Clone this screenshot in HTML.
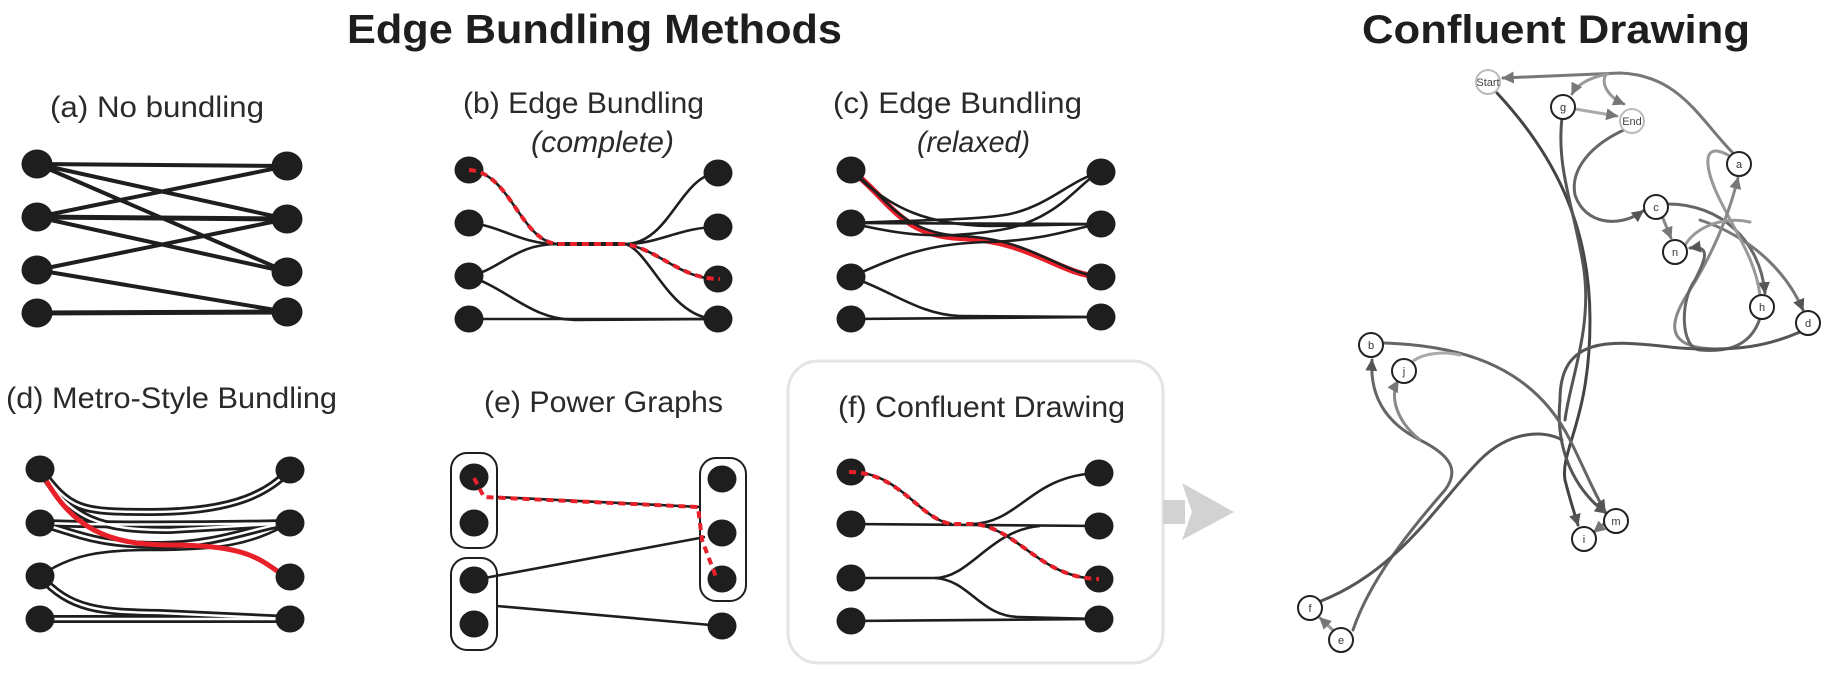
<!DOCTYPE html>
<html><head><meta charset="utf-8"><style>
html,body{margin:0;padding:0;background:#fff;}
svg{display:block;}
text{font-family:"Liberation Sans",sans-serif;}
</style></head><body>
<svg width="1835" height="683" viewBox="0 0 1835 683" xmlns="http://www.w3.org/2000/svg">
<defs>
<marker id="ar" viewBox="0 0 10 10" refX="9" refY="5" markerWidth="4" markerHeight="4" orient="auto-start-reverse"><path d="M0,0 L10,5 L0,10 z" fill="#555"/></marker>
<marker id="arl" viewBox="0 0 10 10" refX="9" refY="5" markerWidth="4" markerHeight="4" orient="auto"><path d="M0,0 L10,5 L0,10 z" fill="#777"/></marker>
</defs>

<text x="347" y="43" font-size="41" font-weight="bold" fill="#1e1e1e" textLength="495" lengthAdjust="spacingAndGlyphs">Edge Bundling Methods</text>
<text x="1362" y="43" font-size="40" font-weight="bold" fill="#1e1e1e" textLength="388" lengthAdjust="spacingAndGlyphs">Confluent Drawing</text>

<g fill="#2a2a2a" font-size="30">
<text x="50" y="117" textLength="214" lengthAdjust="spacingAndGlyphs">(a)  No bundling</text>
<text x="463" y="113" textLength="241" lengthAdjust="spacingAndGlyphs">(b) Edge Bundling</text>
<text x="531" y="152" font-style="italic" textLength="143" lengthAdjust="spacingAndGlyphs">(complete)</text>
<text x="833" y="113" textLength="249" lengthAdjust="spacingAndGlyphs">(c)  Edge Bundling</text>
<text x="917" y="152" font-style="italic" textLength="113" lengthAdjust="spacingAndGlyphs">(relaxed)</text>
<text x="6" y="408" textLength="331" lengthAdjust="spacingAndGlyphs">(d) Metro-Style Bundling</text>
<text x="484" y="412" textLength="239" lengthAdjust="spacingAndGlyphs">(e) Power Graphs</text>
<text x="838" y="417" textLength="287" lengthAdjust="spacingAndGlyphs">(f) Confluent Drawing</text>
</g>

<rect x="788" y="361" width="375" height="302" rx="30" fill="none" stroke="#e4e4e4" stroke-width="3"/>
<rect x="1163" y="500" width="22" height="24" fill="#d2d2d2"/>
<path d="M1182,483 L1234,512 L1182,540 L1192,512 z" fill="#d2d2d2"/>

<!-- Panel (a) -->
<g stroke="#1e1e1e" stroke-width="4" fill="none">
<line x1="37" y1="164" x2="287" y2="166"/>
<line x1="37" y1="164" x2="287" y2="219"/>
<line x1="37" y1="164" x2="287" y2="272"/>
<line x1="37" y1="217" x2="287" y2="166"/>
<line x1="37" y1="217" x2="287" y2="219" stroke-width="5"/>
<line x1="37" y1="217" x2="287" y2="272"/>
<line x1="37" y1="270" x2="287" y2="219"/>
<line x1="37" y1="270" x2="287" y2="312"/>
<line x1="37" y1="313" x2="287" y2="312" stroke-width="5"/>
</g>
<g fill="#1e1e1e">
<ellipse cx="37" cy="164" rx="15.5" ry="14.5"/><ellipse cx="37" cy="217" rx="15.5" ry="14.5"/><ellipse cx="37" cy="270" rx="15.5" ry="14.5"/><ellipse cx="37" cy="313" rx="15.5" ry="14.5"/>
<ellipse cx="287" cy="166" rx="15.5" ry="14.5"/><ellipse cx="287" cy="219" rx="15.5" ry="14.5"/><ellipse cx="287" cy="272" rx="15.5" ry="14.5"/><ellipse cx="287" cy="312" rx="15.5" ry="14.5"/>
</g>

<!-- Panel (b) -->
<g stroke="#1e1e1e" stroke-width="2.6" fill="none">
<path d="M469,170 C510,172 520,240 557,244"/>
<path d="M469,223 C500,225 520,244 557,244"/>
<path d="M469,276 C500,270 515,244 557,244"/>
<path d="M557,244 L625,244" stroke-width="4"/>
<path d="M625,244 C670,244 680,175 718,173"/>
<path d="M625,244 C660,244 680,227 718,227"/>
<path d="M625,244 C660,250 680,279 718,279"/>
<path d="M625,244 C650,250 670,320 718,319"/>
<path d="M469,276 C510,290 530,319 575,320 L718,319"/>
<path d="M469,319 L718,319"/>
</g>
<g fill="#1e1e1e">
<ellipse cx="469" cy="170" rx="14.5" ry="13.5"/><ellipse cx="469" cy="223" rx="14.5" ry="13.5"/><ellipse cx="469" cy="276" rx="14.5" ry="13.5"/><ellipse cx="469" cy="319" rx="14.5" ry="13.5"/>
<ellipse cx="718" cy="173" rx="14.5" ry="13.5"/><ellipse cx="718" cy="227" rx="14.5" ry="13.5"/><ellipse cx="718" cy="279" rx="14.5" ry="13.5"/><ellipse cx="718" cy="319" rx="14.5" ry="13.5"/>
</g>
<path d="M469,170 C510,172 520,240 557,244 L625,244 C660,250 680,279 720,279" stroke="#e8202a" stroke-width="4" fill="none" stroke-dasharray="7,5"/>

<!-- Panel (c) -->
<path d="M851,170 C890,200 900,235 960,238 C1030,240 1060,275 1101,277" stroke="#e8202a" stroke-width="6" fill="none"/>
<g stroke="#1e1e1e" stroke-width="2.6" fill="none">
<path d="M851,170 C890,200 900,232 960,236 C1030,238 1060,273 1101,277"/>
<path d="M851,170 C890,210 930,225 990,226 L1101,224"/>
<path d="M851,223 C920,220 980,220 1010,214 C1050,205 1070,180 1101,172"/>
<path d="M851,223 L1101,224"/>
<path d="M851,223 C900,235 940,240 1000,230 C1060,220 1080,180 1101,172"/>
<path d="M851,277 C900,255 930,243 990,242 C1050,240 1080,226 1101,224"/>
<path d="M851,277 C890,290 920,315 960,316 L1101,317"/>
<path d="M851,319 L1101,317"/>
</g>
<g fill="#1e1e1e">
<ellipse cx="851" cy="170" rx="14.5" ry="13.5"/><ellipse cx="851" cy="223" rx="14.5" ry="13.5"/><ellipse cx="851" cy="277" rx="14.5" ry="13.5"/><ellipse cx="851" cy="319" rx="14.5" ry="13.5"/>
<ellipse cx="1101" cy="172" rx="14.5" ry="13.5"/><ellipse cx="1101" cy="224" rx="14.5" ry="13.5"/><ellipse cx="1101" cy="277" rx="14.5" ry="13.5"/><ellipse cx="1101" cy="317" rx="14.5" ry="13.5"/>
</g>

<!-- Panel (d) -->
<g fill="none">
<g stroke="#1e1e1e" stroke-width="8">
<path d="M40,469 C70,510 80,512 150,512 C240,512 270,490 290,470"/>
<path d="M40,523 C100,525 200,525 290,523"/>
<path d="M40,469 C70,520 100,530 170,530 L290,523"/>
<path d="M40,523 C80,535 100,545 160,545 C220,545 260,525 290,523"/>
<path d="M40,576 C70,610 100,612 160,613 L290,619"/>
<path d="M40,619 L290,619"/>
</g>
<g stroke="#fff" stroke-width="2.5">
<path d="M40,469 C70,510 80,512 150,512 C240,512 270,490 290,470"/>
<path d="M40,523 C100,525 200,525 290,523"/>
<path d="M40,469 C70,520 100,530 170,530 L290,523"/>
<path d="M40,523 C80,535 100,545 160,545 C220,545 260,525 290,523"/>
<path d="M40,576 C70,610 100,612 160,613 L290,619"/>
<path d="M40,619 L290,619"/>
</g>
<path d="M40,576 C70,555 100,550 150,550 C220,550 250,545 290,523" stroke="#1e1e1e" stroke-width="2.6"/>
<path d="M40,469 C70,530 110,545 170,545 C250,545 260,560 286,577" stroke="#e8202a" stroke-width="5"/>
</g>
<g fill="#1e1e1e">
<ellipse cx="40" cy="469" rx="14.5" ry="13.5"/><ellipse cx="40" cy="523" rx="14.5" ry="13.5"/><ellipse cx="40" cy="576" rx="14.5" ry="13.5"/><ellipse cx="40" cy="619" rx="14.5" ry="13.5"/>
<ellipse cx="290" cy="470" rx="14.5" ry="13.5"/><ellipse cx="290" cy="523" rx="14.5" ry="13.5"/><ellipse cx="290" cy="577" rx="14.5" ry="13.5"/><ellipse cx="290" cy="619" rx="14.5" ry="13.5"/>
</g>

<!-- Panel (e) -->
<g fill="none" stroke="#1e1e1e" stroke-width="2">
<rect x="451" y="453" width="46" height="95" rx="16"/>
<rect x="451" y="558" width="46" height="92" rx="16"/>
<rect x="700" y="458" width="46" height="143" rx="16"/>
</g>
<g stroke="#1e1e1e" stroke-width="2.6">
<line x1="497" y1="497" x2="700" y2="507"/>
<line x1="474" y1="580" x2="705" y2="537"/>
<line x1="497" y1="606" x2="722" y2="626"/>
</g>
<g fill="#1e1e1e">
<ellipse cx="474" cy="477" rx="14.5" ry="13.5"/><ellipse cx="474" cy="523" rx="14.5" ry="13.5"/><ellipse cx="474" cy="580" rx="14.5" ry="13.5"/><ellipse cx="474" cy="624" rx="14.5" ry="13.5"/>
<ellipse cx="722" cy="479" rx="14.5" ry="13.5"/><ellipse cx="722" cy="533" rx="14.5" ry="13.5"/><ellipse cx="722" cy="579" rx="14.5" ry="13.5"/><ellipse cx="722" cy="626" rx="14.5" ry="13.5"/>
</g>
<path d="M474,478 L484,497 L698,507 L702,540 L716,577" fill="none" stroke="#e8202a" stroke-width="4" stroke-dasharray="7,5"/>

<!-- Panel (f) -->
<g stroke="#1e1e1e" stroke-width="2.6" fill="none">
<path d="M851,472 C900,472 920,520 952,524"/>
<path d="M851,524 L1099,526"/>
<path d="M970,524 C1020,524 1030,475 1099,473"/>
<path d="M975,524 C1020,530 1040,578 1099,579"/>
<path d="M851,578 L935,578 C970,578 990,530 1040,526"/>
<path d="M935,578 C970,580 980,617 1020,617 L1099,619"/>
<path d="M851,621 L1099,619"/>
</g>
<g fill="#1e1e1e">
<ellipse cx="851" cy="472" rx="14.5" ry="13.5"/><ellipse cx="851" cy="524" rx="14.5" ry="13.5"/><ellipse cx="851" cy="578" rx="14.5" ry="13.5"/><ellipse cx="851" cy="621" rx="14.5" ry="13.5"/>
<ellipse cx="1099" cy="473" rx="14.5" ry="13.5"/><ellipse cx="1099" cy="526" rx="14.5" ry="13.5"/><ellipse cx="1099" cy="579" rx="14.5" ry="13.5"/><ellipse cx="1099" cy="619" rx="14.5" ry="13.5"/>
</g>
<path d="M849,472 C900,472 920,520 952,524 L975,524 C1020,530 1040,578 1099,579" fill="none" stroke="#e8202a" stroke-width="4" stroke-dasharray="7,5"/>

<!-- Confluent drawing graph -->
<g fill="none" stroke-width="3" stroke-linecap="round">
<path d="M1734,154 C1700,120 1680,75 1620,73 L1503,78" stroke="#777" marker-end="url(#arl)"/>
<path d="M1608,74 C1585,78 1575,88 1572,94" stroke="#999" marker-end="url(#arl)"/>
<path d="M1606,74 C1600,85 1610,98 1624,104" stroke="#999" marker-end="url(#arl)"/>
<path d="M1575,109 L1617,116" stroke="#aaa" marker-end="url(#arl)"/>
<path d="M1497,93 C1550,150 1590,220 1590,320 C1590,420 1560,450 1565,480 C1570,500 1575,515 1578,525" stroke="#444" marker-end="url(#ar)"/>
<path d="M1562,118 C1556,170 1575,210 1584,270 C1592,330 1570,380 1565,420" stroke="#555"/>
<path d="M1626,129 C1590,145 1570,170 1575,195 C1585,225 1620,228 1643,211" stroke="#666" marker-end="url(#ar)"/>
<path d="M1662,216 L1671,238" stroke="#888" marker-end="url(#arl)"/>
<path d="M1668,204 C1720,204 1760,240 1765,293" stroke="#666" marker-end="url(#ar)"/>
<path d="M1700,220 C1760,240 1790,280 1803,310" stroke="#777" marker-end="url(#ar)"/>
<path d="M1728,155 C1700,140 1705,170 1720,200 C1740,240 1755,260 1760,295" stroke="#999"/>
<path d="M1722,349 C1660,350 1670,320 1690,290 C1715,250 1730,210 1738,178" stroke="#888" marker-end="url(#arl)"/>
<path d="M1683,250 C1690,230 1720,215 1750,222" stroke="#999"/>
<path d="M1760,318 C1750,350 1720,352 1700,350 C1680,348 1680,300 1695,280 C1705,260 1712,245 1690,248" stroke="#666" marker-end="url(#ar)"/>
<path d="M1800,332 C1770,345 1740,352 1680,348 C1620,342 1560,330 1560,400 C1555,450 1575,490 1606,513" stroke="#555" marker-end="url(#ar)"/>
<path d="M1383,343 C1450,345 1530,360 1570,440 C1585,470 1595,495 1605,511" stroke="#666" marker-end="url(#ar)"/>
<path d="M1353,630 C1370,580 1410,530 1445,490 C1460,470 1450,455 1420,440 C1380,420 1370,390 1372,360" stroke="#666" marker-end="url(#ar)"/>
<path d="M1460,355 C1440,350 1420,355 1412,362" stroke="#aaa"/>
<path d="M1420,440 C1395,420 1390,395 1398,381" stroke="#888" marker-end="url(#arl)"/>
<path d="M1321,601 C1400,570 1440,500 1480,460 C1510,430 1545,430 1562,440" stroke="#555"/>
<path d="M1336,633 L1320,618" stroke="#999" marker-end="url(#arl)"/>
<path d="M1605,523 L1594,532" stroke="#777" marker-end="url(#arl)"/>
</g>
<g stroke-width="2" font-size="11" text-anchor="middle">
<circle cx="1488" cy="82" r="12" fill="#fff" stroke="#bbb"/><text x="1488" y="86" fill="#444" stroke="none">Start</text>
<circle cx="1632" cy="121" r="12" fill="#fff" stroke="#bbb"/><text x="1632" y="125" fill="#444" stroke="none">End</text>
<g fill="#fff" stroke="#222">
<circle cx="1563" cy="107" r="12"/><circle cx="1739" cy="164" r="12"/><circle cx="1656" cy="207" r="12"/><circle cx="1675" cy="252" r="12"/>
<circle cx="1762" cy="307" r="12"/><circle cx="1808" cy="323" r="12"/><circle cx="1371" cy="345" r="12"/><circle cx="1404" cy="371" r="12"/>
<circle cx="1616" cy="521" r="12"/><circle cx="1584" cy="539" r="12"/><circle cx="1310" cy="608" r="12"/><circle cx="1341" cy="640" r="12"/>
</g>
<g fill="#333" stroke="none">
<text x="1563" y="111">g</text><text x="1739" y="168">a</text><text x="1656" y="211">c</text><text x="1675" y="256">n</text>
<text x="1762" y="311">h</text><text x="1808" y="327">d</text><text x="1371" y="349">b</text><text x="1404" y="375">j</text>
<text x="1616" y="525">m</text><text x="1584" y="543">i</text><text x="1310" y="612">f</text><text x="1341" y="644">e</text>
</g>
</g>
</svg>
</body></html>
